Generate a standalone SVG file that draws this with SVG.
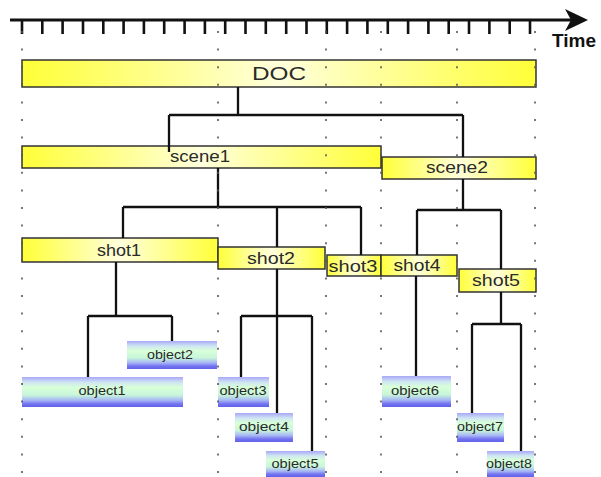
<svg xmlns="http://www.w3.org/2000/svg" width="601" height="477" viewBox="0 0 601 477">
<defs>
<linearGradient id="yel" x1="0" y1="0" x2="1" y2="0">
<stop offset="0" stop-color="#ffff38"/>
<stop offset="0.5" stop-color="#ffffdc"/>
<stop offset="1" stop-color="#ffff38"/>
</linearGradient>
<linearGradient id="obj" x1="0" y1="0" x2="0" y2="1">
<stop offset="0" stop-color="#a8a8f8"/>
<stop offset="0.18" stop-color="#cfe6f2"/>
<stop offset="0.35" stop-color="#d8ffd8"/>
<stop offset="0.6" stop-color="#c8f6da"/>
<stop offset="0.78" stop-color="#a6b4f6"/>
<stop offset="0.9" stop-color="#7272f0"/>
<stop offset="1" stop-color="#6262ea"/>
</linearGradient>
</defs>
<style>
.bar{fill:url(#yel);stroke:#333;stroke-width:1.5}
.ob{fill:url(#obj);stroke:none}
.lbl{font-family:"Liberation Sans",Arial,sans-serif;fill:#2a2a2a;text-anchor:middle}
.big{font-size:18px}
.mid{font-size:17px}
.sm{font-size:13px}
.con{fill:none;stroke:#111;stroke-width:2.3}
.dot{stroke:#555;stroke-width:1.6;stroke-dasharray:2 15.6}
</style>
<rect width="601" height="477" fill="#fff"/>
<g id="timeline">
<line x1="10" y1="20" x2="572" y2="20" stroke="#111" stroke-width="3"/>
<polygon points="588,20 565,9 571,20 565,31" fill="#111"/>
<path d="M22 20V34M42.3 20V34M62.6 20V34M83 20V34M103.3 20V34M123.6 20V34M143.9 20V34M164.2 20V34M184.6 20V34M204.9 20V34M225.2 20V34M245.5 20V34M265.8 20V34M286.2 20V34M306.5 20V34M326.8 20V34M347.1 20V34M367.4 20V34M387.8 20V34M408.1 20V34M428.4 20V34M448.7 20V34M469 20V34M489.4 20V34M509.7 20V34M530 20V34" stroke="#111" stroke-width="2.6" fill="none"/>
<text x="574" y="47" font-family="'Liberation Sans',Arial,sans-serif" font-weight="bold" font-size="18" text-anchor="middle" textLength="44" lengthAdjust="spacingAndGlyphs" fill="#111">Time</text>
</g>
<g id="DOC"><rect class="bar" x="22" y="60" width="514" height="27"/><text class="lbl big" x="279" y="80" textLength="54" lengthAdjust="spacingAndGlyphs">DOC</text></g>
<g id="scene1"><rect class="bar" x="22" y="146" width="359" height="22"/><text class="lbl mid" x="200" y="162" textLength="60" lengthAdjust="spacingAndGlyphs">scene1</text></g>
<g id="scene2"><rect class="bar" x="382" y="157" width="154" height="22"/><text class="lbl mid" x="457" y="173" textLength="62" lengthAdjust="spacingAndGlyphs">scene2</text></g>
<g id="shot1"><rect class="bar" x="22" y="238" width="196" height="24"/><text class="lbl mid" x="119" y="256" textLength="44" lengthAdjust="spacingAndGlyphs">shot1</text></g>
<g id="shot2"><rect class="bar" x="218" y="247" width="107" height="22"/><text class="lbl mid" x="271" y="264" textLength="48" lengthAdjust="spacingAndGlyphs">shot2</text></g>
<g id="shot3"><rect class="bar" x="327" y="255" width="54" height="21"/><text class="lbl mid" x="353" y="272" textLength="49" lengthAdjust="spacingAndGlyphs">shot3</text></g>
<g id="shot4"><rect class="bar" x="381" y="255" width="76" height="21"/><text class="lbl mid" x="417" y="271" textLength="47" lengthAdjust="spacingAndGlyphs">shot4</text></g>
<g id="shot5"><rect class="bar" x="459" y="269" width="77" height="23"/><text class="lbl mid" x="496" y="286" textLength="48" lengthAdjust="spacingAndGlyphs">shot5</text></g>
<g id="object1"><rect class="ob" x="22" y="377" width="161" height="30"/><text class="lbl sm" x="102" y="395" textLength="47" lengthAdjust="spacingAndGlyphs">object1</text></g>
<g id="object2"><rect class="ob" x="127" y="341" width="90" height="28"/><text class="lbl sm" x="170" y="359" textLength="46" lengthAdjust="spacingAndGlyphs">object2</text></g>
<g id="object3"><rect class="ob" x="218" y="377" width="51" height="30"/><text class="lbl sm" x="243" y="395" textLength="47" lengthAdjust="spacingAndGlyphs">object3</text></g>
<g id="object4"><rect class="ob" x="235" y="413" width="58" height="29"/><text class="lbl sm" x="264" y="431" textLength="50" lengthAdjust="spacingAndGlyphs">object4</text></g>
<g id="object5"><rect class="ob" x="266" y="451" width="59" height="26"/><text class="lbl sm" x="295" y="468" textLength="47" lengthAdjust="spacingAndGlyphs">object5</text></g>
<g id="object6"><rect class="ob" x="382" y="376" width="69" height="31"/><text class="lbl sm" x="415" y="395" textLength="48" lengthAdjust="spacingAndGlyphs">object6</text></g>
<g id="object7"><rect class="ob" x="457" y="413" width="47" height="29"/><text class="lbl sm" x="480" y="431" textLength="46" lengthAdjust="spacingAndGlyphs">object7</text></g>
<g id="object8"><rect class="ob" x="487" y="451" width="47" height="26"/><text class="lbl sm" x="509" y="468" textLength="46" lengthAdjust="spacingAndGlyphs">object8</text></g>
<g id="connectors" class="con">
<path d="M238 87V115M169 115H463M169 115V152M463 115V157"/>
<path d="M218 168V207M123 207H361M123 207V238M277 207V247M361 207V255"/>
<path d="M463 179V210M417 210H501M417 210V255M501 210V269"/>
<path d="M116 262V316M88 316H172M88 316V377M172 316V341"/>
<path d="M277 269V413M241 316H312M241 316V377M312 316V451"/>
<path d="M416 276V376"/>
<path d="M501 292V324M472 324H521M472 324V413M521 324V451"/>
</g>
<g id="gridlines">
<line class="dot" x1="22" y1="31" x2="22" y2="475"/>
<line class="dot" x1="218" y1="31" x2="218" y2="475"/>
<line class="dot" x1="326" y1="31" x2="326" y2="475"/>
<line class="dot" x1="381" y1="31" x2="381" y2="475"/>
<line class="dot" x1="457" y1="31" x2="457" y2="475"/>
<line class="dot" x1="535" y1="31" x2="535" y2="475"/>
</g>
</svg>
